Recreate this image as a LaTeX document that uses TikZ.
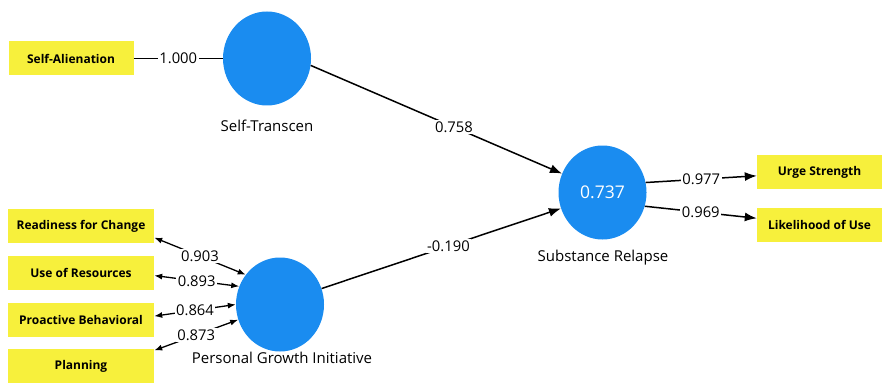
\documentclass[tikz,border=0pt]{standalone}
\usepackage{fontspec}
\setmainfont{Open Sans}
\usetikzlibrary{arrows.meta,shapes.geometric}
\definecolor{lvblue}{HTML}{1A8CF0}
\definecolor{indyellow}{HTML}{F7F03C}

\begin{document}
\begin{tikzpicture}[x=1pt, y=-1pt,
	lv/.style={ellipse, fill=lvblue, minimum width=88pt, minimum height=94pt, inner sep=0pt},
	ind/.style={rectangle, fill=indyellow, font=\bfseries\fontsize{12}{14}\selectfont, minimum height=34pt, inner sep=0pt},
	lvname/.style={font=\fontsize{15}{18}\selectfont},
	val/.style={fill=white, inner sep=1.5pt, font=\fontsize{14.8}{17}\selectfont},
	inner/.style={line width=1.5pt, -{Latex[length=12pt,width=9pt]}},
	outer/.style={line width=1.3pt, {Latex[length=8pt,width=6pt]}-{Latex[length=8pt,width=6pt]}}]
	\useasboundingbox (0,0) rectangle (882,385);

	% latent variables
	\node[lv] (st) at (267,58.5) {};
	\node[lvname] (stn) at (267,126) {Self-Transcen};
	\node[lv, text=white, font=\fontsize{17.5}{20}\selectfont] (sr) at (602.5,192.5) {0.737};
	\node[lvname] (srn) at (603,258) {Substance Relapse};
	\node[lv] (pgi) at (280,304.5) {};
	\node[lvname] (pgin) at (282,358) {Personal Growth Initiative};

	% indicators
	\node[ind, minimum width=125pt] (sa) at (71,58.5) {Self-Alienation};
	\node[ind, minimum width=125pt] (us) at (819.5,172) {Urge Strength};
	\node[ind, minimum width=125pt] (lu) at (819.5,225) {Likelihood of Use};
	\node[ind, minimum width=146pt] (rc) at (81,226) {Readiness for Change};
	\node[ind, minimum width=146pt] (ur) at (81,273) {Use of Resources};
	\node[ind, minimum width=146pt] (pb) at (81,320) {Proactive Behavioral};
	\node[ind, minimum width=146pt] (pl) at (81,366) {Planning};

	\draw[line width=1.5pt] (sa) -- node[val] {1.000} (st);

	\draw[inner] (st.-9) -- node[val, pos=0.57] {0.758} (sr.155);
	\draw[inner] (pgi.21) -- node[val, pos=0.53] {-0.190} (sr.201);
	\draw[inner] (sr.13) -- node[val] {0.977} (us);
	\draw[inner] (sr.-18) -- node[val] {0.969} (lu);

	\draw[outer] (pgi.139) -- node[val] {0.903} (rc.-9);
	\draw[outer] (pgi.156) -- node[val] {0.893} (ur.-2);
	\draw[outer] (pgi.180) -- node[val] {0.864} (pb.3);
	\draw[outer] (pgi.200) -- node[val] {0.873} (pl.12);
\end{tikzpicture}
\end{document}
